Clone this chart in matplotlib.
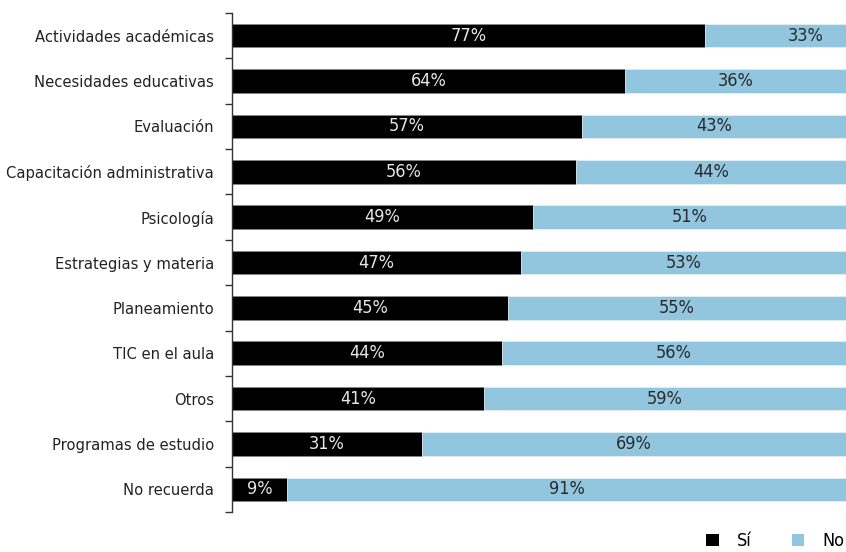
import matplotlib.pyplot as plt
from matplotlib.patches import Patch

plt.rcParams["font.family"] = ["DejaVu Sans"]
plt.rcParams["font.stretch"] = "condensed"

categorias = [
    "Actividades académicas",
    "Necesidades educativas",
    "Evaluación",
    "Capacitación administrativa",
    "Psicología",
    "Estrategias y materia",
    "Planeamiento",
    "TIC en el aula",
    "Otros",
    "Programas de estudio",
    "No recuerda",
]
si = [77, 64, 57, 56, 49, 47, 45, 44, 41, 31, 9]
no = [33, 36, 43, 44, 51, 53, 55, 56, 59, 69, 91]

COLOR_SI = "#000000"
COLOR_NO = "#92c6df"

fig = plt.figure(figsize=(8.46, 5.52), dpi=100)
ax = fig.add_axes([232 / 846, 1 - 512 / 552, 1 - 232 / 846, (512 - 13) / 552])

y = list(range(len(categorias)))
ax.barh(y, si, height=0.52, color=COLOR_SI, edgecolor="#888888", linewidth=0.5)
ax.barh(y, no, left=si, height=0.52, color=COLOR_NO, edgecolor="#e8f2f7", linewidth=0.5)

for yi, s, n in zip(y, si, no):
    ax.text(s / 2, yi, f"{s}%", ha="center", va="center", color="#e6e6e6", fontsize=13)
    ax.text(s + n / 2, yi, f"{n}%", ha="center", va="center", color="#2a2a2a", fontsize=13)

ax.set_xlim(0, 100)
ax.set_ylim(len(categorias) - 0.5, -0.5)
ax.set_yticks(y)
ax.set_yticklabels(categorias, fontsize=11.8, color="#222222")
ax.tick_params(axis="y", which="major", length=0, pad=13)
# ticks on the category boundaries
ax.set_yticks([i - 0.5 for i in range(len(categorias) + 1)], minor=True)
ax.tick_params(axis="y", which="minor", length=5, width=1, color="#333333")
ax.set_xticks([])
for side in ["top", "right", "bottom"]:
    ax.spines[side].set_visible(False)
ax.spines["left"].set_color("#333333")
ax.spines["left"].set_linewidth(1)

handles = [Patch(facecolor=COLOR_SI, label="Sí"), Patch(facecolor=COLOR_NO, label="No")]
fig.legend(handles=handles, loc="lower right", bbox_to_anchor=(1.0, 0.0), ncol=2,
           frameon=False, fontsize=13, handlelength=0.7, handleheight=0.7,
           columnspacing=2.2, handletextpad=1.0, borderaxespad=0.0, borderpad=0.1)

fig.savefig("out.png", dpi=100)
